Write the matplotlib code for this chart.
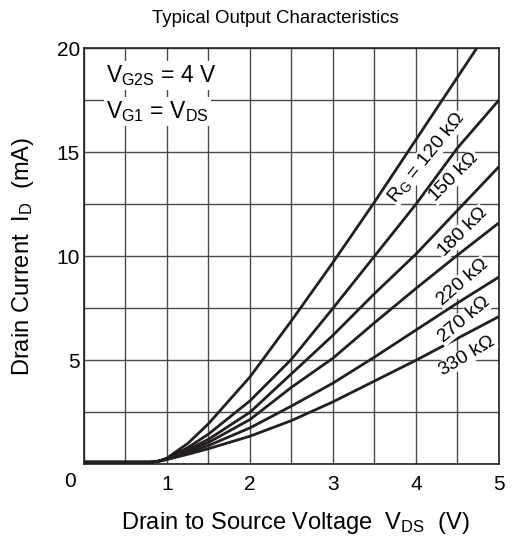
import matplotlib.pyplot as plt
import matplotlib.ticker as mtick

plt.rcParams["font.family"] = ["Liberation Sans", "DejaVu Sans"]
plt.rcParams["mathtext.fontset"] = "custom"
plt.rcParams["mathtext.rm"] = "Liberation Sans"
plt.rcParams["mathtext.it"] = "Liberation Sans"

# drain-source voltage (V)
vds = [0.0, 0.5, 0.8, 0.9, 1.0, 1.25, 1.5, 2.0, 2.5, 3.0, 3.5, 4.0, 4.5, 5.0]

# drain current (mA) per gate resistor
id_120k = [0.1, 0.1, 0.1, 0.15, 0.3, 1.0, 1.95, 4.2, 6.9, 9.7, 12.6, 15.6, 18.6, 21.6]
id_150k = [0.1, 0.1, 0.1, 0.15, 0.28, 0.8, 1.45, 3.05, 5.05, 7.5, 10.0, 12.5, 15.2, 17.5]
id_180k = [0.1, 0.1, 0.1, 0.15, 0.26, 0.7, 1.2, 2.5, 4.35, 6.2, 8.2, 10.1, 12.2, 14.3]
id_220k = [0.1, 0.1, 0.1, 0.15, 0.25, 0.62, 1.05, 2.15, 3.7, 5.1, 6.8, 8.45, 10.05, 11.6]
id_270k = [0.1, 0.1, 0.1, 0.15, 0.24, 0.55, 0.9, 1.75, 2.8, 3.9, 5.15, 6.45, 7.75, 9.0]
id_330k = [0.1, 0.1, 0.1, 0.15, 0.23, 0.48, 0.75, 1.35, 2.1, 3.0, 4.0, 5.0, 6.05, 7.1]

curves = [id_120k, id_150k, id_180k, id_220k, id_270k, id_330k]

curve_labels = [r"R$_G$ = 120 k$\Omega$", r"150 k$\Omega$", r"180 k$\Omega$",
                r"220 k$\Omega$", r"270 k$\Omega$", r"330 k$\Omega$"]
label_x = [4.12, 4.46, 4.56, 4.56, 4.58, 4.61]
label_y = [14.75, 13.8, 11.14, 8.73, 6.95, 5.21]
label_rot = [51, 45, 45, 41, 40, 31]

x_ticks = [1, 2, 3, 4, 5]
y_ticks = [5, 10, 15, 20]


def main():
    fig = plt.figure(figsize=(5.14, 5.4), dpi=100)
    ax = fig.add_axes([0.1634, 0.1402, 0.8074, 0.7709])

    for values in curves:
        ax.plot(vds, values, color="#231f20", lw=2.0, solid_capstyle="butt",
                solid_joinstyle="round", zorder=3)

    ax.set_xlim(0, 5)
    ax.set_ylim(0, 20)
    ax.set_xticks(x_ticks)
    ax.set_yticks(y_ticks)
    ax.xaxis.set_minor_locator(mtick.MultipleLocator(0.5))
    ax.yaxis.set_minor_locator(mtick.MultipleLocator(2.5))
    ax.grid(True, which="both", color="#4a4a4a", lw=1.0, zorder=1)
    ax.set_axisbelow(True)
    ax.tick_params(which="both", length=0, labelsize=15)
    ax.tick_params(axis="x", pad=8)
    ax.tick_params(axis="y", pad=3)
    for sp in ax.spines.values():
        sp.set_color("#231f20")
        sp.set_linewidth(1.2)

    ax.text(-0.17, -0.85, "0", fontsize=15, ha="center", va="center",
            clip_on=False)

    box = dict(facecolor="white", edgecolor="none", pad=1.5)
    ax.text(0.27, 18.7, r"V$_{\rm G2S}$ = 4 V", fontsize=16.5, ha="left",
            va="center", bbox=box, zorder=4)
    ax.text(0.27, 16.95, r"V$_{\rm G1}$ = V$_{\rm DS}$", fontsize=16.5,
            ha="left", va="center", bbox=box, zorder=4)

    for lab, lx, ly, rot in zip(curve_labels, label_x, label_y, label_rot):
        ax.text(lx, ly, lab, fontsize=14, rotation=rot, rotation_mode="anchor",
                ha="center", va="center", bbox=dict(facecolor="white",
                edgecolor="none", pad=0.3), zorder=4)

    fig.text(0.574, 0.031, r"Drain to Source Voltage  V$_{\rm DS}$  (V)",
             fontsize=17, ha="center", va="center")
    fig.text(0.045, 0.526, r"Drain Current  I$_{\rm D}$  (mA)", fontsize=17,
             ha="center", va="center", rotation=90)
    fig.text(0.536, 0.966, "Typical Output Characteristics", fontsize=13.4,
             ha="center", va="center")

    fig.savefig("out.png", dpi=100)


if __name__ == "__main__":
    main()
